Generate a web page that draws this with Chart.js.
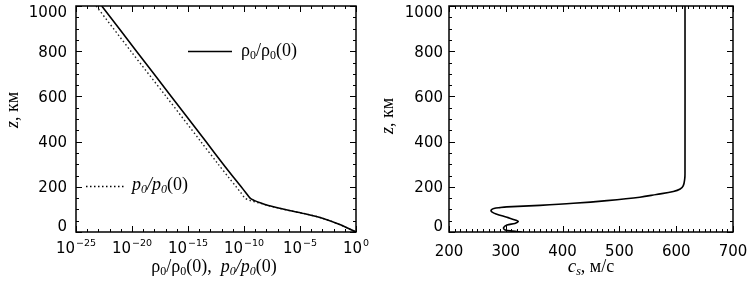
<!DOCTYPE html>
<html>
<head>
<meta charset="utf-8">
<script src="https://cdn.jsdelivr.net/npm/chart.js@4.4.1/dist/chart.umd.min.js"></script>
<style>
  body { margin: 0; background: #fff; }
  #wrap { position: relative; width: 753px; height: 287px; }
  canvas { position: absolute; top: 0; }
</style>
</head>
<body>
<div id="wrap">
  <canvas id="left" width="375" height="287" style="left:0"></canvas>
  <canvas id="right" width="378" height="287" style="left:375px"></canvas>
</div>
<script>
// height (km) and normalised density / pressure
const zRho = [1000, 800, 600, 400, 300, 240, 200, 175, 150, 140, 128, 117, 106, 95, 80, 61, 34, 0];
const rho  = [2.0e-23, 2.5e-20, 3.2e-17, 4.0e-14, 1.4e-12, 1.26e-11, 5.6e-11, 1.4e-10, 3.5e-10, 7.9e-10,
              3.2e-9, 1.5e-8, 1.2e-7, 1.1e-6, 3.4e-5, 1.0e-3, 3.1e-2, 1];
const zP   = [1000, 800, 600, 400, 300, 240, 200, 175, 150, 140, 128, 117, 106, 95, 80, 61, 34, 0];
const pres = [6.3e-24, 7.9e-21, 1.1e-17, 1.4e-14, 5.0e-13, 4.5e-12, 2.0e-11, 5.0e-11, 1.26e-10, 3.2e-10,
              2.5e-9, 1.5e-8, 1.2e-7, 1.1e-6, 3.4e-5, 1.0e-3, 3.1e-2, 1];

// sound speed (m/s) vs height (km)
const zCs = [1000, 260, 235, 205, 190, 179, 166, 154, 139, 127, 118, 111, 108, 104, 99, 94, 88, 80, 65, 52, 46, 38, 31, 19, 9, 4, 0];
const cs  = [615.5, 615.5, 615, 612.5, 607, 595, 565, 536, 478, 419, 360, 302, 290, 279, 275, 274, 276, 283,
             302, 318, 322, 316, 302, 296, 299, 312, 328];

// axes
const zTicks = [0, 200, 400, 600, 800, 1000];
const rhoTicks = [1e-25, 1e-20, 1e-15, 1e-10, 1e-5, 1];
const rhoTickExp = ['\u221225', '\u221220', '\u221215', '\u221210', '\u22125', '0'];
const csTicks = [200, 300, 400, 500, 600, 700];

const zMinor = [];
for (let v = 0; v <= 1000; v += 50) zMinor.push(v);
const rhoMinor = [];
for (let e = -25; e <= 0; e++) rhoMinor.push(Math.pow(10, e));
const csMinor = [];
for (let v = 200; v <= 700; v += 10) csMinor.push(v);

const SANS = '"DejaVu Sans", sans-serif';
const SERIF = '"Liberation Serif", "Times New Roman", serif';

function pts(xs, ys) {
    return xs.map((x, i) => ({ x: x, y: ys[i] }));
}

// draw a run of text pieces: [text, size, italic, dy]
function rich(ctx, parts, x, y, align) {
    let w = 0;
    parts.forEach(p => {
        ctx.font = (p[2] ? 'italic ' : '') + p[1] + 'px ' + (p[4] || SERIF);
        w += ctx.measureText(p[0]).width;
    });
    let cx = align === 'center' ? x - w / 2 : x;
    parts.forEach(p => {
        ctx.font = (p[2] ? 'italic ' : '') + p[1] + 'px ' + (p[4] || SERIF);
        ctx.fillText(p[0], cx, y + (p[3] || 0));
        cx += ctx.measureText(p[0]).width;
    });
}

function makeFrame(cfg) {
    return {
        id: 'frame',
        afterDatasetsDraw(chart) {
            const ctx = chart.ctx;
            const a = chart.chartArea;
            const x = chart.scales.x, y = chart.scales.y;
            ctx.save();
            ctx.strokeStyle = '#000';
            ctx.fillStyle = '#000';

            // inward ticks on all four sides
            ctx.lineWidth = 1;
            ctx.beginPath();
            const tickX = (vals, len) => vals.forEach(v => {
                const px = Math.round(x.getPixelForValue(v)) + 0.5;
                ctx.moveTo(px, a.bottom); ctx.lineTo(px, a.bottom - len);
                ctx.moveTo(px, a.top); ctx.lineTo(px, a.top + len);
            });
            const tickY = (vals, len) => vals.forEach(v => {
                const py = Math.round(y.getPixelForValue(v)) + 0.5;
                ctx.moveTo(a.left, py); ctx.lineTo(a.left + len, py);
                ctx.moveTo(a.right, py); ctx.lineTo(a.right - len, py);
            });
            tickX(cfg.xMinor, 3);
            tickX(cfg.xMajor, 6);
            tickY(zMinor, 3);
            tickY(zTicks, 6);
            ctx.stroke();

            ctx.lineWidth = 1.5;
            ctx.strokeRect(a.left, a.top, a.right - a.left, a.bottom - a.top);

            // y tick labels
            ctx.font = '15px ' + SANS;
            ctx.textAlign = 'right';
            ctx.textBaseline = 'middle';
            zTicks.forEach(v => {
                let py = y.getPixelForValue(v) + 1.5;
                py = Math.min(Math.max(py, a.top + 7), a.bottom - 5);
                ctx.fillText(String(v), cfg.yLabelX, py);
            });

            // x tick labels
            ctx.textAlign = 'left';
            cfg.xMajor.forEach((v, i) => {
                const px = x.getPixelForValue(v);
                cfg.xLabel(ctx, px, i);
            });

            // axis titles
            ctx.textBaseline = 'alphabetic';
            rich(ctx, cfg.xTitle, cfg.xTitleX, 272, 'center');
            ctx.save();
            ctx.translate(cfg.yTitleX, cfg.yTitleY);
            ctx.rotate(-Math.PI / 2);
            rich(ctx, [['z', 18, true], [', км', 18, false]], 0, 0, 'center');
            ctx.restore();

            if (cfg.legend) cfg.legend(ctx);
            ctx.restore();
        }
    };
}

const baseOpts = (pad, xScale) => ({
    responsive: false,
    animation: false,
    events: [],
    layout: { padding: pad },
    plugins: { legend: { display: false }, tooltip: { enabled: false } },
    scales: {
        x: xScale,
        y: { type: 'linear', min: 0, max: 1000, display: false }
    }
});

// left panel: rho0/rho0(0) and p0/p0(0)
new Chart(document.getElementById('left').getContext('2d'), {
    type: 'scatter',
    data: {
        datasets: [
            {
                label: 'rho',
                data: pts(rho, zRho),
                showLine: true,
                borderColor: '#000',
                borderWidth: 1.6,
                pointRadius: 0,
                tension: 0.3
            },
            {
                label: 'p',
                data: pts(pres, zP),
                showLine: true,
                borderColor: '#222',
                borderWidth: 1.4,
                borderDash: [1.5, 2.5],
                pointRadius: 0,
                tension: 0.3
            }
        ]
    },
    options: baseOpts({ left: 76, top: 6, right: 19, bottom: 55 },
        { type: 'logarithmic', min: 1e-25, max: 1, display: false }),
    plugins: [makeFrame({
        xMajor: rhoTicks,
        xMinor: rhoMinor,
        yLabelX: 67,
        xLabel(ctx, px, i) {
            ctx.font = '15px ' + SANS;
            const w1 = ctx.measureText('10').width;
            ctx.font = '9.5px ' + SANS;
            const w2 = ctx.measureText(rhoTickExp[i]).width;
            const x0 = px - (w1 + w2 + 1) / 2;
            ctx.font = '15px ' + SANS;
            ctx.fillText('10', x0, 249.5);
            ctx.font = '9.5px ' + SANS;
            ctx.fillText(rhoTickExp[i], x0 + w1 + 1, 243.5);
        },
        xTitle: [['ρ', 18], ['0', 12, false, 3], ['/ρ', 18], ['0', 12, false, 3], ['(0),  ', 18],
                 ['p', 18, true], ['0', 12, true, 3], ['/', 18, true], ['p', 18, true], ['0', 12, true, 3], ['(0)', 18]],
        xTitleX: 214,
        yTitleX: 18,
        yTitleY: 110,
        legend(ctx) {
            ctx.lineWidth = 1.4;
            ctx.beginPath();
            ctx.moveTo(188, 51.5); ctx.lineTo(232, 51.5);
            ctx.stroke();
            rich(ctx, [['ρ', 18], ['0', 12, false, 3], ['/ρ', 18], ['0', 12, false, 3], ['(0)', 18]], 241, 56, 'left');
            ctx.setLineDash([1.5, 2.5]);
            ctx.beginPath();
            ctx.moveTo(86, 186.5); ctx.lineTo(124, 186.5);
            ctx.stroke();
            ctx.setLineDash([]);
            rich(ctx, [['p', 18, true], ['0', 12, true, 3], ['/', 18, true], ['p', 18, true], ['0', 12, true, 3], ['(0)', 18]], 132, 190, 'left');
        }
    })]
});

// right panel: sound speed
new Chart(document.getElementById('right').getContext('2d'), {
    type: 'scatter',
    data: {
        datasets: [{
            label: 'cs',
            data: pts(cs, zCs),
            showLine: true,
            borderColor: '#000',
            borderWidth: 1.6,
            pointRadius: 0,
            tension: 0.35
        }]
    },
    options: baseOpts({ left: 74, top: 6, right: 20, bottom: 55 },
        { type: 'linear', min: 200, max: 700, display: false }),
    plugins: [makeFrame({
        xMajor: csTicks,
        xMinor: csMinor,
        yLabelX: 68,
        xLabel(ctx, px, i) {
            ctx.font = '15px ' + SANS;
            ctx.textAlign = 'center';
            ctx.fillText(String(csTicks[i]), px, 252);
            ctx.textAlign = 'left';
        },
        xTitle: [['c', 19, true], ['s', 12, true, 3], [', м/с', 18]],
        xTitleX: 216,
        yTitleX: 18,
        yTitleY: 116
    })]
});
</script>
</body>
</html>
